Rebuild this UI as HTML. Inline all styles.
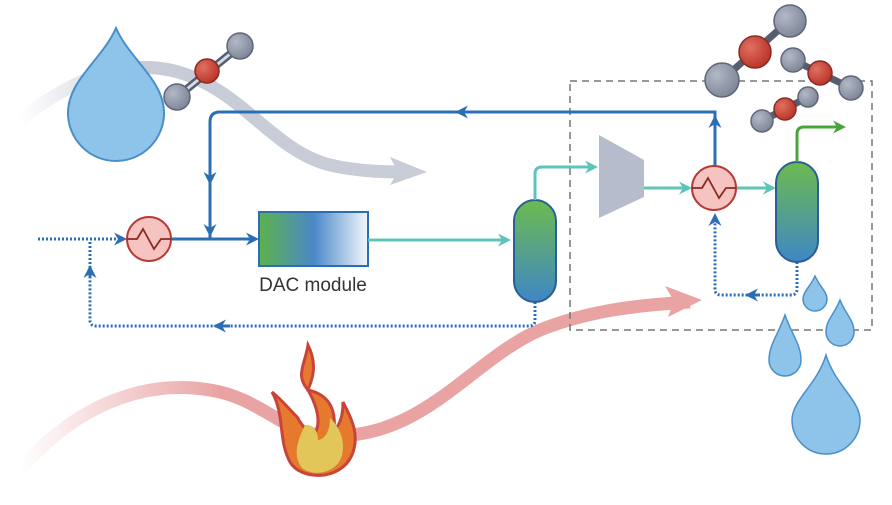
<!DOCTYPE html>
<html><head><style>body{margin:0;background:#fff}svg{display:block}</style></head><body>
<svg width="892" height="505" viewBox="0 0 892 505" xmlns="http://www.w3.org/2000/svg">
<defs>
<linearGradient id="dac" x1="0" x2="1"><stop offset="0" stop-color="#5cb24a"/><stop offset="0.5" stop-color="#4a88c8"/><stop offset="1" stop-color="#f4f7fc"/></linearGradient>
<linearGradient id="col" x1="0" y1="0" x2="0" y2="1"><stop offset="0" stop-color="#6cbb4e"/><stop offset="1" stop-color="#3f87c6"/></linearGradient>
<linearGradient id="gr" x1="0" x2="1"><stop offset="0" stop-color="#c8ccd6" stop-opacity="0"/><stop offset="0.3" stop-color="#c8ccd6"/></linearGradient>
<linearGradient id="rd" x1="0" x2="1"><stop offset="0" stop-color="#e9a3a3" stop-opacity="0"/><stop offset="0.3" stop-color="#e9a3a3"/></linearGradient>
<radialGradient id="gb" cx="0.35" cy="0.35" r="0.7"><stop offset="0" stop-color="#b3b8c6"/><stop offset="1" stop-color="#7d8597"/></radialGradient>
<radialGradient id="rb" cx="0.35" cy="0.35" r="0.7"><stop offset="0" stop-color="#e07060"/><stop offset="1" stop-color="#b83328"/></radialGradient>
<marker id="ab" markerWidth="13" markerHeight="13" refX="10" refY="6.5" orient="auto" markerUnits="userSpaceOnUse"><path d="M0,0 L13,6.5 L0,13 L4,6.5z" fill="#2a6fb5"/></marker>
<marker id="at" markerWidth="13" markerHeight="13" refX="10" refY="6.5" orient="auto" markerUnits="userSpaceOnUse"><path d="M0,0 L13,6.5 L0,13 L4,6.5z" fill="#5cc4b8"/></marker>
<marker id="ag" markerWidth="13" markerHeight="13" refX="10" refY="6.5" orient="auto" markerUnits="userSpaceOnUse"><path d="M0,0 L13,6.5 L0,13 L4,6.5z" fill="#4aa33c"/></marker>
</defs>
<path d="M20,120 C70,80 120,60 170,70 C240,85 270,150 330,165 C360,172 390,172 410,172" fill="none" stroke="url(#gr)" stroke-width="13"/>
<path d="M390,157 L427,172 L390,185 L398,172z" fill="#c8ccd6"/>
<path d="M20,470 C80,400 150,380 210,390 C260,398 280,430 320,435 C420,445 470,360 540,330 C590,310 640,305 690,302" fill="none" stroke="url(#rd)" stroke-width="13"/>
<path d="M665,286 L702,300 L668,317 L674,301z" fill="#e9a3a3"/>
<path d="M116,28 C130,60 164,80 164,113 A48,48 0 0 1 68,113 C68,80 102,60 116,28z" fill="#8ec4ea" stroke="#4a8fc8" stroke-width="2"/>
<g stroke="#555d6e" stroke-width="8"><line x1="177" y1="97" x2="240" y2="46"/></g>
<g stroke="#d8dce4" stroke-width="3"><line x1="177" y1="97" x2="240" y2="46"/></g>
<circle cx="177" cy="97" r="13" fill="url(#gb)" stroke="#5e6677" stroke-width="1.5"/>
<circle cx="240" cy="46" r="13" fill="url(#gb)" stroke="#5e6677" stroke-width="1.5"/>
<circle cx="207" cy="71" r="12" fill="url(#rb)" stroke="#8a2a22" stroke-width="1.5"/>
<rect x="570" y="81" width="302" height="249" fill="none" stroke="#777" stroke-width="1.5" stroke-dasharray="7,5"/>
<path d="M715,166 V112 H220 Q210,112 210,122 V238" fill="none" stroke="#2a6fb5" stroke-width="3"/>
<path d="M715,150 V118" stroke="#2a6fb5" stroke-width="3" marker-end="url(#ab)"/>
<path d="M470,112 H458" stroke="#2a6fb5" stroke-width="3" marker-end="url(#ab)"/>
<path d="M210,165 V182" stroke="#2a6fb5" stroke-width="3" marker-end="url(#ab)"/>
<path d="M210,215 V234" stroke="#2a6fb5" stroke-width="3" marker-end="url(#ab)"/>
<path d="M38,239 H124" stroke="#2a6fb5" stroke-width="3" stroke-dasharray="2,2" marker-end="url(#ab)"/>
<path d="M171,239 H256" stroke="#2a6fb5" stroke-width="3" marker-end="url(#ab)"/>
<path d="M535,302 V320 Q535,326 529,326 H96 Q90,326 90,320 V268" fill="none" stroke="#2a6fb5" stroke-width="3" stroke-dasharray="2,2"/>
<path d="M90,278 V268" stroke="#2a6fb5" stroke-width="3" marker-end="url(#ab)"/>
<path d="M90,268 V240" stroke="#2a6fb5" stroke-width="3" stroke-dasharray="2,2"/>
<path d="M230,326 H216" stroke="#2a6fb5" stroke-width="3" marker-end="url(#ab)"/>
<path d="M797,262 V289 Q797,295 791,295 H721 Q715,295 715,289 V216" fill="none" stroke="#2a6fb5" stroke-width="3" stroke-dasharray="2,2" marker-end="url(#ab)"/>
<path d="M760,295 H748" stroke="#2a6fb5" stroke-width="3" marker-end="url(#ab)"/>
<rect x="259" y="212" width="109" height="54" fill="url(#dac)" stroke="#2a6fb5" stroke-width="2"/>
<text x="313" y="291" font-family="Liberation Sans, sans-serif" font-size="19" fill="#333" text-anchor="middle">DAC module</text>
<path d="M368,240 H508" stroke="#5cc4b8" stroke-width="3" marker-end="url(#at)"/>
<rect x="514" y="200" width="42" height="102" rx="21" fill="url(#col)" stroke="#2a5f95" stroke-width="2"/>
<path d="M535,200 V174 Q535,167 542,167 H595" fill="none" stroke="#5cc4b8" stroke-width="3" marker-end="url(#at)"/>
<path d="M599,135 L644,160 L644,197 L599,218z" fill="#b6bccb"/>
<path d="M644,188 H689" stroke="#5cc4b8" stroke-width="3" marker-end="url(#at)"/>
<path d="M737,188 H773" stroke="#5cc4b8" stroke-width="3" marker-end="url(#at)"/>
<rect x="776" y="162" width="42" height="100" rx="21" fill="url(#col)" stroke="#2a5f95" stroke-width="2"/>
<path d="M797,162 V134 Q797,127 804,127 H843" fill="none" stroke="#4aa33c" stroke-width="3" marker-end="url(#ag)"/>
<g fill="#f5c3c0" stroke="#b83a36" stroke-width="2">
<circle cx="149" cy="239" r="22"/><circle cx="714" cy="188" r="22"/></g>
<g fill="none" stroke="#8a2a22" stroke-width="1.8">
<path d="M127,239 H137 L143,229 L154,249 L161,239 H171"/>
<path d="M692,188 H702 L708,178 L719,198 L726,188 H736"/></g>
<g stroke="#555d6e" stroke-width="7"><line x1="722" y1="80" x2="790" y2="20"/><line x1="793" y1="60" x2="851" y2="88"/><line x1="762" y1="121" x2="808" y2="97"/></g>
<circle cx="722" cy="80" r="17" fill="url(#gb)" stroke="#5e6677" stroke-width="1.5"/>
<circle cx="790" cy="21" r="16" fill="url(#gb)" stroke="#5e6677" stroke-width="1.5"/>
<circle cx="755" cy="52" r="16" fill="url(#rb)" stroke="#8a2a22" stroke-width="1.5"/>
<circle cx="793" cy="60" r="12" fill="url(#gb)" stroke="#5e6677" stroke-width="1.5"/>
<circle cx="851" cy="88" r="12" fill="url(#gb)" stroke="#5e6677" stroke-width="1.5"/>
<circle cx="820" cy="73" r="12" fill="url(#rb)" stroke="#8a2a22" stroke-width="1.5"/>
<circle cx="762" cy="121" r="11" fill="url(#gb)" stroke="#5e6677" stroke-width="1.5"/>
<circle cx="808" cy="97" r="10" fill="url(#gb)" stroke="#5e6677" stroke-width="1.5"/>
<circle cx="785" cy="109" r="11" fill="url(#rb)" stroke="#8a2a22" stroke-width="1.5"/>
<g fill="#8ec4ea" stroke="#4a8fc8" stroke-width="1.5">
<path d="M815,276 C820,287 827,292 827,299 A12,12 0 0 1 803,299 C803,292 810,287 815,276z"/>
<path d="M840,300 C846,315 854,320 854,332 A14,14 0 0 1 826,332 C826,320 834,315 840,300z"/>
<path d="M785,315 C792,335 801,345 801,360 A16,16 0 0 1 769,360 C769,345 778,335 785,315z"/>
<path d="M826,355 C835,385 860,400 860,420 A34,34 0 0 1 792,420 C792,400 817,385 826,355z"/>
</g>
<path d="M308,390 C322,415 320,432 310,437 C303,425 298,420 298,418 C290,410 282,400 272,392 C285,415 278,440 290,462 C300,480 340,482 352,455 C360,435 352,420 343,402 C343,415 340,425 334,430 C336,410 330,395 308,390 C312,380 318,365 308,345 C305,365 295,375 308,390z" fill="#e57a2e" stroke="#c8443a" stroke-width="3"/>
<path d="M305,425 C298,440 292,455 302,468 C315,478 338,472 342,455 C346,440 338,425 330,418 C330,435 322,440 318,440 C318,430 312,424 305,425z" fill="#e3c65a"/>
</svg>
</body></html>
